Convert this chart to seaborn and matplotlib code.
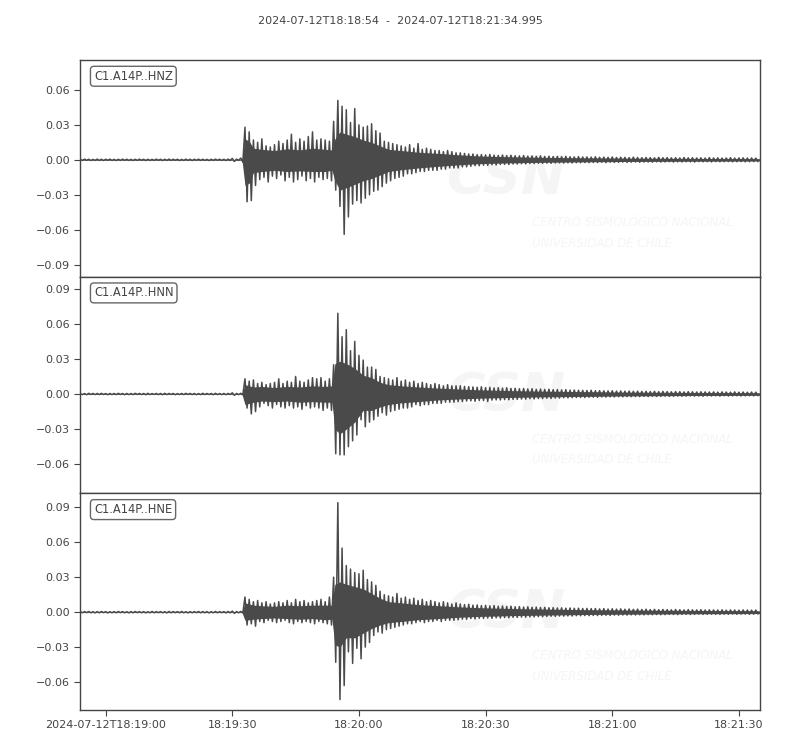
import numpy as np
import pandas as pd
import seaborn as sns
import matplotlib.pyplot as plt
from matplotlib.ticker import MultipleLocator, FuncFormatter

# seconds after 2024-07-12T18:18:54, one up/down extreme per second (x 1e-3)
seconds = list(range(161))

z_up = [0.5, 0.6, 0.5, 0.4, 0.6, 0.5, 0.5, 0.6, 0.4, 0.5,
        0.6, 0.5, 0.4, 0.5, 0.6, 0.5, 0.5, 0.4, 0.6, 0.5,
        0.5, 0.6, 0.5, 0.5, 0.4, 0.6, 0.5, 0.5, 0.6, 0.5,
        0.4, 0.5, 0.6, 0.5, 0.5, 0.6, 1.2, 0.6, 1.5, 28,
        24, 17, 15, 18, 12, 11, 13, 16, 14, 17,
        22, 15, 18, 16, 20, 24, 17, 18, 17, 16,
        33, 51, 46, 43, 32, 44, 30, 28, 29, 31,
        25, 23, 16, 15, 14, 13, 12, 11, 13, 10,
        14, 9, 10, 9, 8, 8, 7, 8, 7, 6,
        6, 5.5, 5, 5, 4.5, 4.5, 4.2, 4.6, 4.0, 3.8,
        4.1, 3.6, 3.9, 3.5, 3.4, 3.7, 3.2, 3.3, 3.0, 3.4,
        2.9, 3.1, 2.8, 2.9, 2.7, 3.0, 2.6, 2.5, 2.8, 2.4,
        2.5, 2.3, 2.6, 2.2, 2.3, 2.1, 2.4, 2.0, 2.2, 2.1,
        1.9, 2.3, 2.0, 1.8, 2.0, 1.9, 1.7, 2.1, 1.8, 1.9,
        1.7, 1.8, 1.6, 2.0, 1.7, 1.8, 1.6, 1.7, 1.5, 1.9,
        1.6, 1.7, 1.5, 1.6, 1.8, 1.5, 1.6, 1.7, 1.5, 1.6,
        1.5]
z_lo = [-0.5, -0.4, -0.6, -0.5, -0.5, -0.6, -0.4, -0.5, -0.6, -0.5,
        -0.4, -0.5, -0.6, -0.5, -0.4, -0.6, -0.5, -0.5, -0.4, -0.6,
        -0.5, -0.5, -0.4, -0.6, -0.5, -0.5, -0.6, -0.4, -0.5, -0.5,
        -0.6, -0.5, -0.4, -0.5, -0.6, -0.5, -1.4, -0.5, -2.0, -36,
        -35, -22, -17, -15, -19, -14, -16, -13, -18, -15,
        -19, -17, -14, -18, -16, -19, -15, -17, -16, -18,
        -26, -40, -64, -49, -38, -35, -37, -33, -30, -27,
        -26, -23, -20, -18, -16, -15, -14, -12, -12, -11,
        -10, -10, -9, -9, -9, -8, -8, -7, -7, -7,
        -6, -6, -5.5, -5, -5, -4.6, -4.8, -4.2, -4.4, -3.9,
        -3.8, -4.0, -3.5, -3.6, -3.3, -3.5, -3.1, -3.2, -2.9, -3.0,
        -2.8, -3.0, -2.7, -2.6, -2.8, -2.5, -2.7, -2.4, -2.5, -2.3,
        -2.4, -2.2, -2.3, -2.1, -2.4, -2.0, -2.2, -2.1, -1.9, -2.2,
        -2.0, -1.8, -2.1, -1.9, -1.8, -2.0, -1.7, -1.9, -1.8, -1.6,
        -1.9, -1.7, -1.8, -1.6, -1.7, -1.9, -1.5, -1.7, -1.6, -1.8,
        -1.5, -1.7, -1.6, -1.5, -1.7, -1.6, -1.5, -1.7, -1.6, -1.5,
        -1.6]

n_up = [0.5, 0.4, 0.6, 0.5, 0.5, 0.6, 0.4, 0.5, 0.5, 0.6,
        0.5, 0.5, 0.4, 0.6, 0.5, 0.5, 0.6, 0.4, 0.5, 0.5,
        0.6, 0.5, 0.5, 0.4, 0.5, 0.6, 0.5, 0.5, 0.4, 0.6,
        0.5, 0.5, 0.6, 0.4, 0.5, 0.5, 1.0, 0.5, 0.6, 13,
        11, 12, 9, 10, 8, 9, 10, 13, 9, 11,
        10, 15, 11, 10, 12, 14, 13, 14, 11, 13,
        25, 69, 49, 55, 37, 45, 33, 29, 23, 23,
        21, 15, 14, 13, 12, 14, 11, 12, 10, 11,
        9, 10, 9, 8, 9, 8, 7, 8, 7, 7,
        7, 6.5, 6.3, 6, 5.8, 6.2, 5.5, 5.7, 5.2, 5.4,
        5.0, 5.3, 4.8, 4.9, 4.5, 4.7, 4.3, 4.5, 4.1, 4.2,
        3.9, 4.1, 3.7, 3.8, 3.5, 3.7, 3.3, 3.4, 3.2, 3.1,
        3.0, 3.2, 2.8, 2.9, 2.7, 2.6, 2.8, 2.5, 2.6, 2.4,
        2.5, 2.3, 2.4, 2.2, 2.3, 2.1, 2.3, 2.0, 2.2, 2.1,
        1.9, 2.1, 2.0, 1.8, 2.0, 1.9, 1.7, 1.9, 1.8, 1.7,
        1.8, 1.6, 1.8, 1.7, 1.6, 1.8, 1.6, 1.7, 1.5, 1.7,
        1.6]
n_lo = [-0.5, -0.6, -0.4, -0.5, -0.5, -0.4, -0.6, -0.5, -0.5, -0.4,
        -0.6, -0.5, -0.5, -0.4, -0.5, -0.6, -0.5, -0.4, -0.5, -0.6,
        -0.5, -0.4, -0.6, -0.5, -0.5, -0.4, -0.5, -0.6, -0.5, -0.5,
        -0.4, -0.6, -0.5, -0.5, -0.6, -0.4, -1.1, -0.5, -0.6, -12,
        -17, -15, -11, -8, -10, -12, -9, -11, -12, -10,
        -12, -11, -13, -10, -12, -11, -12, -14, -12, -14,
        -51, -52, -52, -45, -40, -35, -22, -28, -24, -22,
        -19, -16, -18, -15, -14, -13, -12, -12, -11, -9,
        -10, -9, -9, -8, -8, -8, -7, -7, -7, -6.5,
        -6.5, -6, -5.8, -6.2, -5.5, -5.6, -6.4, -5.2, -5.0, -5.1,
        -4.8, -4.9, -4.5, -4.6, -4.3, -4.4, -4.0, -4.2, -3.8, -3.9,
        -3.6, -3.8, -3.4, -3.5, -3.2, -3.3, -3.1, -3.0, -2.9, -3.0,
        -2.8, -2.7, -2.8, -2.5, -2.6, -2.4, -2.5, -2.3, -2.4, -2.2,
        -2.3, -2.1, -2.2, -2.0, -2.2, -1.9, -2.1, -2.0, -1.8, -2.0,
        -1.9, -1.7, -1.9, -1.8, -1.6, -1.8, -1.7, -1.9, -1.6, -1.7,
        -1.6, -1.8, -1.5, -1.7, -1.6, -1.5, -1.7, -1.6, -1.5, -1.6,
        -1.5]

e_up = [0.5, 0.5, 0.6, 0.4, 0.5, 0.6, 0.5, 0.4, 0.5, 0.6,
        0.5, 0.4, 0.5, 0.6, 0.5, 0.5, 0.4, 0.6, 0.5, 0.5,
        0.4, 0.6, 0.5, 0.5, 0.6, 0.4, 0.5, 0.5, 0.6, 0.5,
        0.5, 0.4, 0.6, 0.5, 0.5, 0.6, 0.9, 0.5, 0.6, 13,
        11, 9, 10, 8, 9, 7, 8, 9, 8, 10,
        8, 11, 9, 10, 8, 9, 10, 11, 9, 13,
        30, 94, 55, 40, 37, 34, 33, 36, 28, 26,
        23, 18, 15, 14, 13, 16, 12, 13, 11, 12,
        10, 11, 9, 10, 9, 8, 9, 8, 7, 8,
        7, 6.5, 6.8, 6, 6.2, 5.6, 5.9, 5.4, 5.7, 5.1,
        5.3, 4.9, 5.1, 4.6, 4.8, 4.4, 4.6, 4.2, 4.4, 4.0,
        4.1, 3.8, 3.9, 3.6, 3.7, 3.4, 3.6, 3.3, 3.4, 3.1,
        3.2, 3.0, 3.1, 2.8, 3.0, 2.7, 2.9, 2.6, 2.8, 2.5,
        2.7, 2.4, 2.6, 2.3, 2.5, 2.2, 2.4, 2.1, 2.3, 2.2,
        2.0, 2.3, 2.1, 1.9, 2.2, 2.0, 1.9, 2.1, 1.8, 2.0,
        1.9, 1.8, 2.0, 1.7, 1.9, 1.8, 1.7, 1.9, 1.8, 1.7,
        1.8]
e_lo = [-0.5, -0.4, -0.5, -0.6, -0.5, -0.4, -0.6, -0.5, -0.5, -0.4,
        -0.5, -0.6, -0.5, -0.4, -0.5, -0.6, -0.5, -0.5, -0.4, -0.5,
        -0.6, -0.5, -0.4, -0.5, -0.5, -0.6, -0.5, -0.4, -0.5, -0.5,
        -0.6, -0.5, -0.5, -0.4, -0.6, -0.5, -1.0, -0.5, -0.6, -11,
        -10, -12, -8, -9, -7, -8, -9, -8, -7, -9,
        -10, -8, -9, -8, -9, -10, -8, -9, -10, -11,
        -43, -75, -63, -34, -44, -31, -40, -30, -26, -20,
        -17, -18, -15, -14, -13, -12, -11, -10, -10, -9,
        -8, -9, -8, -8, -7, -8, -7, -7, -7, -6.5,
        -6, -6.2, -5.5, -5.8, -5.2, -5.4, -5.0, -5.3, -4.8, -5.0,
        -4.6, -4.8, -4.4, -4.5, -4.2, -4.3, -4.0, -4.1, -3.8, -3.9,
        -3.7, -3.5, -3.6, -3.3, -3.4, -3.2, -3.3, -3.0, -3.1, -2.9,
        -3.0, -2.8, -2.9, -2.7, -2.6, -2.8, -2.5, -2.6, -2.4, -2.5,
        -2.3, -2.4, -2.2, -2.3, -2.1, -2.2, -2.0, -2.2, -2.1, -1.9,
        -2.0, -2.1, -1.9, -1.8, -2.0, -1.9, -1.7, -1.9, -1.8, -1.7,
        -1.8, -1.9, -1.7, -1.8, -1.6, -1.8, -1.7, -1.6, -1.8, -1.7,
        -1.6]

# solid core of each trace (where the wiggles merge into a band), x 1e-3
core_t = [0, 38.3, 39, 40, 41, 43, 46, 49, 52, 55, 58, 59.6, 60.3, 61.5, 63,
          65, 67, 69, 71, 73, 76, 80, 85, 90, 95, 102, 110, 120, 130, 145, 161]
z_core_up = [0.35, 0.35, 18, 16, 10, 9, 8, 9.5, 8.5, 10, 9, 8.5, 18, 24, 22,
             20, 17, 15, 12, 9, 8, 6.5, 5.5, 4.2, 3.2, 2.6, 2.1, 1.7, 1.4, 1.2, 1.0]
z_core_lo = [-0.35, -0.35, -22, -20, -11, -10, -9, -10, -9.5, -10, -10, -9, -18, -26, -24,
             -21, -18, -16, -13, -10, -8.5, -7, -5.5, -4.2, -3.2, -2.6, -2.1, -1.7, -1.4, -1.2, -1.0]
n_core_up = [0.35, 0.35, 8, 7, 6, 6.5, 5.5, 6.5, 6, 7, 6.5, 7, 26, 28, 26,
             22, 16, 14, 10, 8, 7, 6, 5, 4.2, 3.5, 2.9, 2.4, 2.0, 1.6, 1.3, 1.1]
n_core_lo = [-0.35, -0.35, -9, -8, -7, -6, -6.5, -6, -7, -6.5, -7, -7, -30, -34, -30,
             -24, -14, -14, -11, -9, -7.5, -6.5, -5, -4.2, -3.5, -2.9, -2.4, -2.0, -1.6, -1.3, -1.1]
e_core_up = [0.35, 0.35, 8, 7, 6, 5.5, 5, 6, 5.5, 6, 6, 6, 24, 26, 24,
             22, 20, 16, 12, 9, 8, 6.5, 5.5, 4.5, 3.8, 3.1, 2.6, 2.1, 1.8, 1.5, 1.2]
e_core_lo = [-0.35, -0.35, -7, -6.5, -6, -5.5, -5, -5.5, -6, -5.5, -6.5, -6, -28, -30, -22,
             -22, -18, -14, -11, -9, -8, -6.5, -5.5, -4.3, -3.6, -3.0, -2.5, -2.0, -1.7, -1.4, -1.2]

channels = ['C1.A14P..HNZ', 'C1.A14P..HNN', 'C1.A14P..HNE']
ylims = [(-0.1003, 0.0857), (-0.0849, 0.1003), (-0.084, 0.102)]

tick_secs = [6, 36, 66, 96, 126, 156]
tick_labels = ['2024-07-12T18:19:00', '18:19:30', '18:20:00',
               '18:20:30', '18:21:00', '18:21:30']
title = '2024-07-12T18:18:54  -  2024-07-12T18:21:34.995'

sns.set_style('ticks')
plt.rcParams['font.family'] = ['DejaVu Sans']

grey = '#4a4a4a'
txt = '#444444'
mark = '#f5f5f5'


def trace_frame(up, lo):
    t = np.array(seconds, dtype=float)
    x = np.column_stack([t, t + 0.5]).ravel()
    y = np.column_stack([up, lo]).ravel() * 1e-3
    return pd.DataFrame({'time': x, 'amp': y})


traces = [(z_up, z_lo, z_core_up, z_core_lo),
          (n_up, n_lo, n_core_up, n_core_lo),
          (e_up, e_lo, e_core_up, e_core_lo)]

fig, axes = plt.subplots(3, 1, figsize=(8, 7.5), dpi=100, sharex=True)
fig.subplots_adjust(left=0.1004, right=0.95, top=0.92, bottom=0.0533, hspace=0)

ytick_fmt = FuncFormatter(lambda v, pos: f'{v:.2f}'.replace('-', '\u2212'))

for ax, (up, lo, cu, cl), name, lim in zip(axes, traces, channels, ylims):
    # faint watermark
    ax.text(0.625, 0.45, 'CSN', transform=ax.transAxes, fontsize=38,
            fontweight='bold', style='italic', color=mark,
            ha='center', va='center', zorder=0)
    ax.text(0.665, 0.25, 'CENTRO SISMOLÓGICO NACIONAL', transform=ax.transAxes,
            fontsize=8.5, style='italic', color=mark, va='center', zorder=0)
    ax.text(0.665, 0.155, 'UNIVERSIDAD DE CHILE', transform=ax.transAxes,
            fontsize=8.5, style='italic', color=mark, va='center', zorder=0)

    ax.fill_between(core_t, np.array(cl) * 1e-3, np.array(cu) * 1e-3,
                    color=grey, lw=0, zorder=1)
    sns.lineplot(data=trace_frame(up, lo), x='time', y='amp', ax=ax,
                 color=grey, linewidth=1.1, sort=False, zorder=2)

    ax.set_ylim(*lim)
    ax.set_xlim(0, 160.995)
    ax.yaxis.set_major_locator(MultipleLocator(0.03))
    ax.yaxis.set_major_formatter(ytick_fmt)
    ax.set_xlabel('')
    ax.set_ylabel('')
    for s in ax.spines.values():
        s.set_color(txt)
        s.set_linewidth(1.0)
    ax.tick_params(colors=txt, labelsize=8, length=4, width=0.8)
    ax.text(0.02, 0.955, name, transform=ax.transAxes, fontsize=8.3, color=txt,
            va='top', ha='left', zorder=5,
            bbox=dict(boxstyle='round,pad=0.3', fc='white', ec='#666666', lw=1))

for ax in axes[:2]:
    ax.tick_params(axis='x', bottom=False, labelbottom=False)

axes[2].set_xticks(tick_secs)
axes[2].set_xticklabels(tick_labels)

fig.suptitle(title, y=0.979, fontsize=8, color=txt)

fig.savefig('out.png', dpi=100)
